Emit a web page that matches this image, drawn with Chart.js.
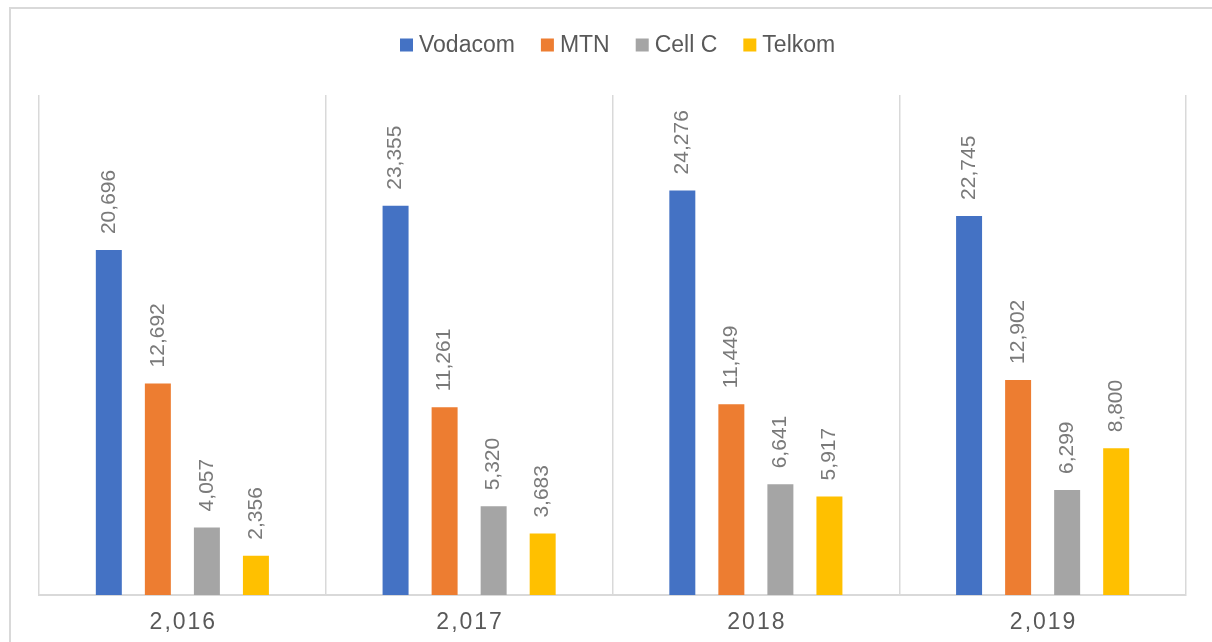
<!DOCTYPE html>
<html>
<head>
<meta charset="utf-8">
<script src="https://cdn.jsdelivr.net/npm/chart.js@4/dist/chart.umd.min.js"></script>
<style>
  html, body { margin: 0; padding: 0; background: #fff; overflow: hidden; }
  #frame { position: absolute; left: 9px; top: 7px; width: 1400px; height: 800px; border: 2px solid #d9d9d9; box-sizing: border-box; }
  #wrap { position: absolute; left: 0; top: 0; width: 1212px; height: 642px; }
</style>
</head>
<body>
<div id="frame"></div>
<div id="wrap"><canvas id="chart" width="1212" height="642"></canvas></div>
<script>
// years as they appear on the axis
const years = ['2,016', '2,017', '2018', '2,019'];
const vodacom = [20696, 23355, 24276, 22745];
const mtn = [12692, 11261, 11449, 12902];
const cellC = [4057, 5320, 6641, 6299];
const telkom = [2356, 3683, 5917, 8800];
const seriesNames = ['Vodacom', 'MTN', 'Cell C', 'Telkom'];
const seriesColors = ['#4472C4', '#ED7D31', '#A5A5A5', '#FFC000'];

const textGray = '#595959';
const labelGray = '#7a7a7a';

// legend, value labels and category labels drawn by hand
const extras = {
    id: 'extras',
    afterDatasetsDraw(chart) {
        const ctx = chart.ctx;
        ctx.save();

        // value labels, rotated, above each bar
        ctx.fillStyle = labelGray;
        ctx.font = '21px Arial, "Liberation Sans", sans-serif';
        ctx.textAlign = 'left';
        ctx.textBaseline = 'middle';
        chart.data.datasets.forEach((ds, i) => {
            chart.getDatasetMeta(i).data.forEach((bar, j) => {
                ctx.save();
                ctx.translate(bar.x, bar.y - 16);
                ctx.rotate(-Math.PI / 2);
                ctx.fillText(ds.data[j].toLocaleString('en-US'), 0, 0);
                ctx.restore();
            });
        });

        // category labels with a bit of letter spacing
        const xs = chart.scales.x;
        ctx.fillStyle = textGray;
        ctx.font = '23px Arial, "Liberation Sans", sans-serif';
        ctx.textAlign = 'center';
        ctx.letterSpacing = '2px';
        years.forEach((y, i) => {
            ctx.fillText(y, xs.getPixelForTick(i) + 1, 623);
        });
        ctx.letterSpacing = '0px';

        // legend
        ctx.textAlign = 'left';
        const box = 13, gap = 6, space = 26;
        const widths = seriesNames.map(n => ctx.measureText(n).width);
        let x = 400;
        const cy = 45;
        seriesNames.forEach((n, i) => {
            ctx.fillStyle = seriesColors[i];
            ctx.fillRect(x, cy - box / 2, box, box);
            ctx.fillStyle = textGray;
            ctx.fillText(n, x + box + gap, cy + 1);
            x += box + gap + widths[i] + space;
        });
        ctx.restore();
    }
};

const allSeries = [vodacom, mtn, cellC, telkom];

new Chart(document.getElementById('chart'), {
    type: 'bar',
    data: {
        labels: years,
        datasets: allSeries.map((d, i) => ({
            label: seriesNames[i],
            data: d,
            backgroundColor: seriesColors[i],
            borderWidth: 0,
            categoryPercentage: 0.684,
            barPercentage: 0.53
        }))
    },
    options: {
        responsive: false,
        animation: false,
        layout: { padding: { left: 39, right: 26, top: 95, bottom: 47 } },
        plugins: {
            legend: { display: false },
            tooltip: { enabled: false }
        },
        scales: {
            x: {
                grid: { color: '#d9d9d9', lineWidth: 1.5, drawTicks: false, offset: true },
                border: { color: '#d9d9d9', width: 2 },
                ticks: { display: false }
            },
            y: {
                display: false,
                min: 0,
                max: 30000
            }
        }
    },
    plugins: [extras]
});
</script>
</body>
</html>
